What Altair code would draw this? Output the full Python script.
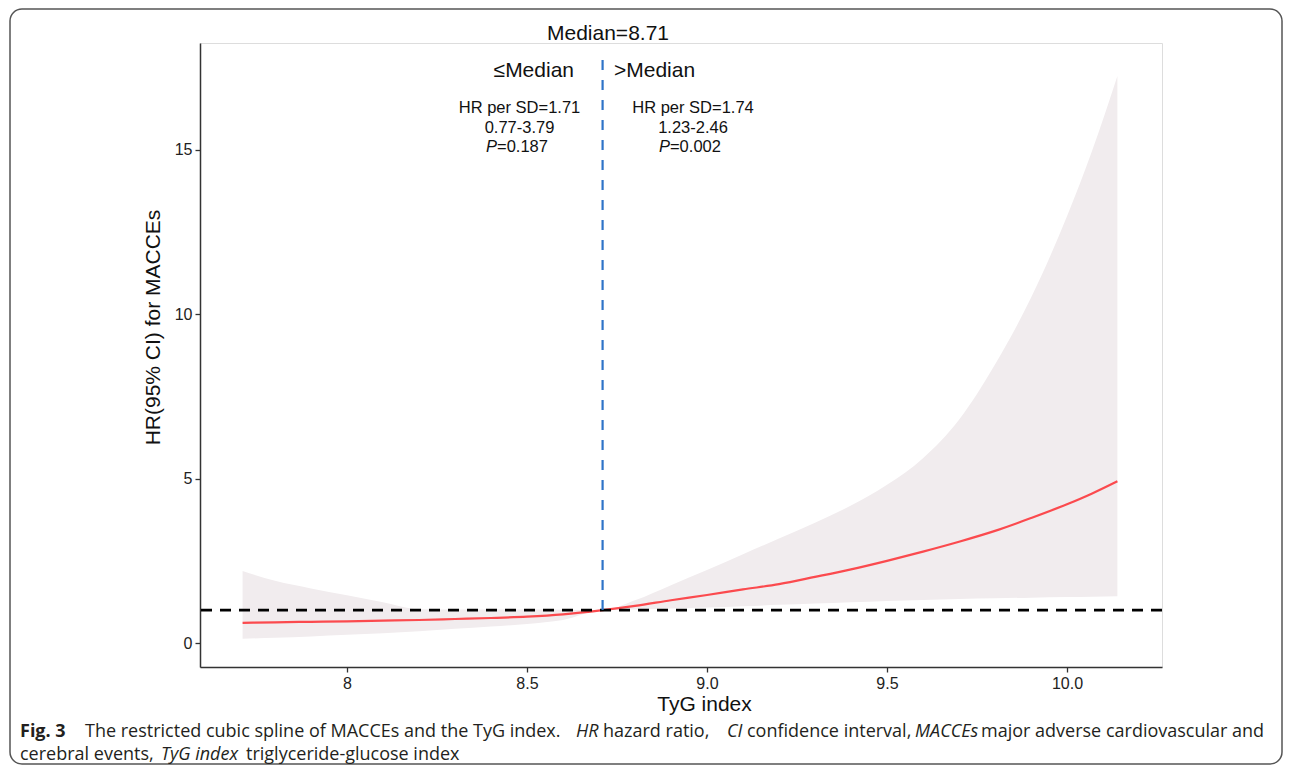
import altair as alt
import pandas as pd

# ---- data ----
tyg = [7.71, 7.8, 7.9, 8.0, 8.1, 8.2, 8.3, 8.4, 8.5, 8.6, 8.71, 8.8, 8.9, 9.0,
       9.1, 9.2, 9.3, 9.4, 9.5, 9.6, 9.7, 9.8, 9.9, 10.0, 10.07, 10.14]
hr = [0.61, 0.63, 0.645, 0.66, 0.68, 0.70, 0.73, 0.76, 0.80, 0.87, 1.0, 1.13, 1.30, 1.46,
      1.63, 1.79, 2.01, 2.24, 2.50, 2.78, 3.08, 3.41, 3.80, 4.22, 4.55, 4.92]
ci_upper = [2.19, 1.89, 1.66, 1.45, 1.24, 1.03, 1.02, 1.02, 1.02, 1.01, 1.0, 1.30, 1.76, 2.22,
            2.70, 3.18, 3.66, 4.18, 4.81, 5.62, 6.79, 8.47, 10.5, 12.98, 14.98, 17.25]
ci_lower = [0.13, 0.16, 0.20, 0.25, 0.30, 0.36, 0.43, 0.50, 0.58, 0.70, 1.0, 1.02, 1.05, 1.08,
            1.12, 1.16, 1.20, 1.24, 1.28, 1.31, 1.34, 1.36, 1.38, 1.40, 1.41, 1.42]

median_value = 8.71
ref_hr = 1.0

x_ticks = [8, 8.5, 9.0, 9.5, 10.0]
x_tick_labels = ["8", "8.5", "9.0", "9.5", "10.0"]
y_ticks = [0, 5, 10, 15]

X_DOMAIN = [7.5917, 10.2639]
Y_DOMAIN = [-0.73, 18.25]

df = pd.DataFrame({"tyg": tyg, "hr": hr, "lo": ci_lower, "hi": ci_upper})

label_expr = ""
for v, l in zip(x_ticks, x_tick_labels):
    label_expr += f"abs(datum.value - {v}) < 1e-6 ? '{l}' : "
label_expr += "''"

AX_FONT = "Liberation Sans"
xs = alt.Scale(domain=X_DOMAIN, nice=False, zero=False)
ys = alt.Scale(domain=Y_DOMAIN, nice=False, zero=False)

xaxis = alt.Axis(values=x_ticks, labelExpr=label_expr, grid=False, tickSize=5,
                 labelPadding=3, labelFontSize=16, labelColor="#222", labelFont=AX_FONT,
                 domainColor="#333", domainWidth=1.5, tickColor="#333", tickWidth=1.3,
                 titleFont=AX_FONT, titleFontSize=21, titleFontWeight="normal", titleColor="#111",
                 titleX=504, titleY=37, titleBaseline="middle", titleAlign="center")
yaxis = alt.Axis(values=y_ticks, grid=False, tickSize=5, labelPadding=3, labelFontSize=16,
                 labelColor="#222", labelFont=AX_FONT,
                 domainColor="#333", domainWidth=1.5, tickColor="#333", tickWidth=1.3,
                 titleFont=AX_FONT, titleFontSize=21, titleFontWeight="normal", titleColor="#111",
                 titleX=-47, titleY=284, titleAngle=270, titleBaseline="middle", titleAlign="center")

base = alt.Chart(df)

band = base.mark_area(color="#f1ecee", interpolate="monotone").encode(
    x=alt.X("tyg:Q", scale=xs, axis=xaxis, title="TyG index"),
    y=alt.Y("lo:Q", scale=ys, axis=yaxis, title="HR(95% CI) for MACCEs"),
    y2="hi:Q",
)

curve = base.mark_line(color="#fb4a4e", strokeWidth=2.2, interpolate="monotone").encode(
    x=alt.X("tyg:Q", scale=xs),
    y=alt.Y("hr:Q", scale=ys),
)

href = alt.Chart(pd.DataFrame({"y": [ref_hr]})).mark_rule(
    color="black", strokeDash=[11, 8], strokeWidth=2.6
).encode(y=alt.Y("y:Q", scale=ys))

vmed = alt.Chart(pd.DataFrame({"x": [median_value], "y": [ref_hr]})).mark_rule(
    color="#2f74c8", strokeDash=[10, 10], strokeWidth=2.2
).encode(x=alt.X("x:Q", scale=xs), y=alt.Y("y:Q", scale=ys), y2=alt.value(15))


def ann(text, x, y, size, align="center", style="normal"):
    return alt.Chart(pd.DataFrame({"t": [text], "x": [x], "y": [y]})).mark_text(
        font=AX_FONT, fontSize=size, align=align, baseline="middle", color="#111",
        fontStyle=style
    ).encode(x=alt.X("x:Q", scale=xs), y=alt.Y("y:Q", scale=ys), text="t:N")


annots = [
    ann("Median=8.71", 8.725, 18.53, 21),
    ann("≤Median", 8.6306, 17.40, 21, align="right"),
    ann(">Median", 8.7417, 17.40, 21, align="left"),
    ann("HR per SD=1.71", 8.4792, 16.28, 16.5),
    ann("0.77-3.79", 8.4792, 15.67, 16.5),
    ann("P", 8.4167, 15.09, 16.5, align="right", style="italic"),
    ann("=0.187", 8.4167, 15.09, 16.5, align="left"),
    ann("HR per SD=1.74", 8.9611, 16.28, 16.5),
    ann("1.23-2.46", 8.9611, 15.67, 16.5),
    ann("P", 8.8972, 15.09, 16.5, align="right", style="italic"),
    ann("=0.002", 8.8972, 15.09, 16.5, align="left"),
]

CAP_FONT = "Open Sans"
L1 = 689
L2 = 712


def cap(text, px, py, weight="normal", style="normal"):
    return alt.Chart(pd.DataFrame({"t": [text]})).mark_text(
        font=CAP_FONT, fontSize=18, align="left", baseline="middle", color="#231f20",
        fontWeight=weight, fontStyle=style
    ).encode(x=alt.value(px), y=alt.value(py), text="t:N")


caption = [
    cap("Fig. 3", -180, L1, weight="bold"),
    cap("The restricted cubic spline of MACCEs and the TyG index.", -115, L1),
    cap("HR", 376, L1, style="italic"),
    cap("hazard ratio,", 403, L1),
    cap("CI", 527, L1, style="italic"),
    cap("confidence interval,", 547, L1),
    cap("MACCEs", 715, L1, style="italic"),
    cap("major adverse cardiovascular and", 781, L1),
    cap("cerebral events,", -180, L2),
    cap("TyG index", -39, L2, style="italic"),
    cap("triglyceride-glucose index", 46, L2),
]

border = alt.Chart(pd.DataFrame({"a": [0]})).mark_rect(
    fill="white", fillOpacity=0, stroke="#555", strokeWidth=1.5, cornerRadius=12
).encode(x=alt.value(-190), x2=alt.value(1082), y=alt.value(-34), y2=alt.value(721))

chart = alt.layer(border, band, curve, href, vmed, *annots, *caption).properties(
    width=962, height=624,
    padding={"left": 1, "top": 0, "right": 0, "bottom": 0},
).configure_view(stroke="transparent").configure(font=AX_FONT)

chart.save("out.html", embed_options={"renderer": "svg", "actions": False})
